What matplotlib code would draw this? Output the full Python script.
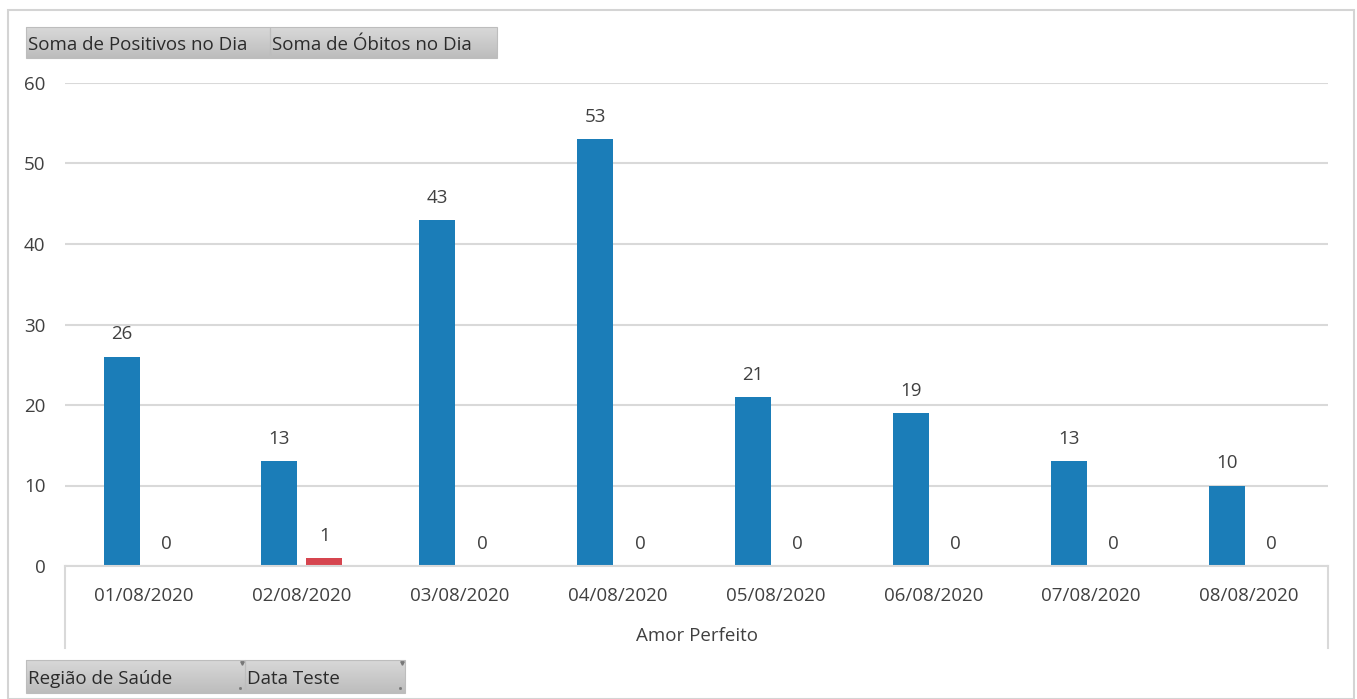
import matplotlib
matplotlib.use("Agg")
import matplotlib.pyplot as plt
import numpy as np
from matplotlib.patches import Rectangle
from matplotlib.lines import Line2D

categories = ["01/08/2020", "02/08/2020", "03/08/2020", "04/08/2020",
              "05/08/2020", "06/08/2020", "07/08/2020", "08/08/2020"]
positivos = [26, 13, 43, 53, 21, 19, 13, 10]
obitos = [0, 1, 0, 0, 0, 0, 0, 0]
yticks = [0, 10, 20, 30, 40, 50, 60]
group_label = "Amor Perfeito"
top_buttons = ["Soma de Positivos no Dia", "Soma de Óbitos no Dia"]
bottom_buttons = ["Região de Saúde", "Data Teste"]

plt.rcParams['font.family'] = ['Open Sans', 'DejaVu Sans']
TXT = "#404040"
BLUE = "#1b7db8"
RED = "#d6454f"
GRID = "#d9d9d9"
FS = 13.5

W, H = 1357, 699
fig = plt.figure(figsize=(W / 100, H / 100), dpi=100)

def fx(x):
    return x / W

def fy(y):
    return 1 - y / H

# outer border
fig.add_artist(Rectangle((fx(8), fy(699)), fx(1354) - fx(8), fy(10) - fy(699),
                         transform=fig.transFigure, fill=False, edgecolor="#d4d4d4", lw=1.5))

x0, x1, ytop, ybot = 65, 1328, 83, 566
ax = fig.add_axes([fx(x0), fy(ybot), fx(x1) - fx(x0), fy(ytop) - fy(ybot)])
ax.set_xlim(-0.5, len(categories) - 0.5)
ax.set_ylim(0, 60)

x = np.arange(len(categories))
bw = 0.228
off = 0.142
ax.bar(x - off, positivos, bw, color=BLUE, zorder=3)
ax.bar(x + off, obitos, bw, color=RED, zorder=3)

for xi, v in zip(x - off, positivos):
    ax.annotate(str(v), (xi, v), xytext=(0, 16), textcoords="offset points",
                ha="center", va="center", fontsize=FS, color=TXT)
for xi, v in zip(x + off, obitos):
    ax.annotate(str(v), (xi, v), xytext=(0, 15.5), textcoords="offset points",
                ha="center", va="center", fontsize=FS, color=TXT)

ax.set_yticks(yticks)
ax.yaxis.grid(True, color=GRID, lw=1.5, zorder=0)
ax.tick_params(axis="y", length=0, pad=14, labelsize=FS, labelcolor=TXT)
ax.set_xticks(x)
ax.set_xticklabels(categories, fontsize=FS, color=TXT)
ax.tick_params(axis="x", length=0, pad=15)
for s in ["top", "right", "left"]:
    ax.spines[s].set_visible(False)
ax.spines["bottom"].set_color(GRID)
ax.spines["bottom"].set_linewidth(1.5)
ax.spines["bottom"].set_zorder(4)

# group label and bracket lines
fig.text(fx((x0 + x1) / 2), fy(636), group_label, ha="center", va="center",
         fontsize=FS, color=TXT)
for xx in (x0, x1):
    fig.add_artist(Line2D([fx(xx), fx(xx)], [fy(566), fy(648)], transform=fig.transFigure,
                          color=GRID, lw=1.5))

# buttons with gradient
grad = np.linspace(0.85, 0.74, 50).reshape(-1, 1)

def button(xl, xr, yt, yb, label, marks=False):
    bax = fig.add_axes([fx(xl), fy(yb), fx(xr) - fx(xl), fy(yt) - fy(yb)])
    bax.imshow(np.dstack([grad, grad, grad]), aspect="auto", extent=(0, 1, 0, 1))
    bax.set_xlim(0, 1)
    bax.set_ylim(0, 1)
    bax.axis("off")
    bax.text(2 / (xr - xl), 0.42, label, ha="left", va="center", fontsize=13.5,
             color="#2b2b2b", transform=bax.transAxes)
    fig.add_artist(Rectangle((fx(xl), fy(yb)), fx(xr) - fx(xl), fy(yt) - fy(yb),
                             transform=fig.transFigure, fill=False, edgecolor="#bdbdbd", lw=0.8))
    if marks:
        bax.plot([1 - 3 / (xr - xl)], [0.9], marker="v", ms=2.5, color="#777777")
        bax.plot([1 - 5 / (xr - xl)], [0.15], marker="s", ms=1, color="#777777")

button(26, 270, 27, 58, top_buttons[0])
button(270, 497, 27, 58, top_buttons[1])
button(26, 245, 660, 693, bottom_buttons[0], marks=True)
button(245, 405, 660, 693, bottom_buttons[1], marks=True)

fig.savefig("out.png", dpi=100)
